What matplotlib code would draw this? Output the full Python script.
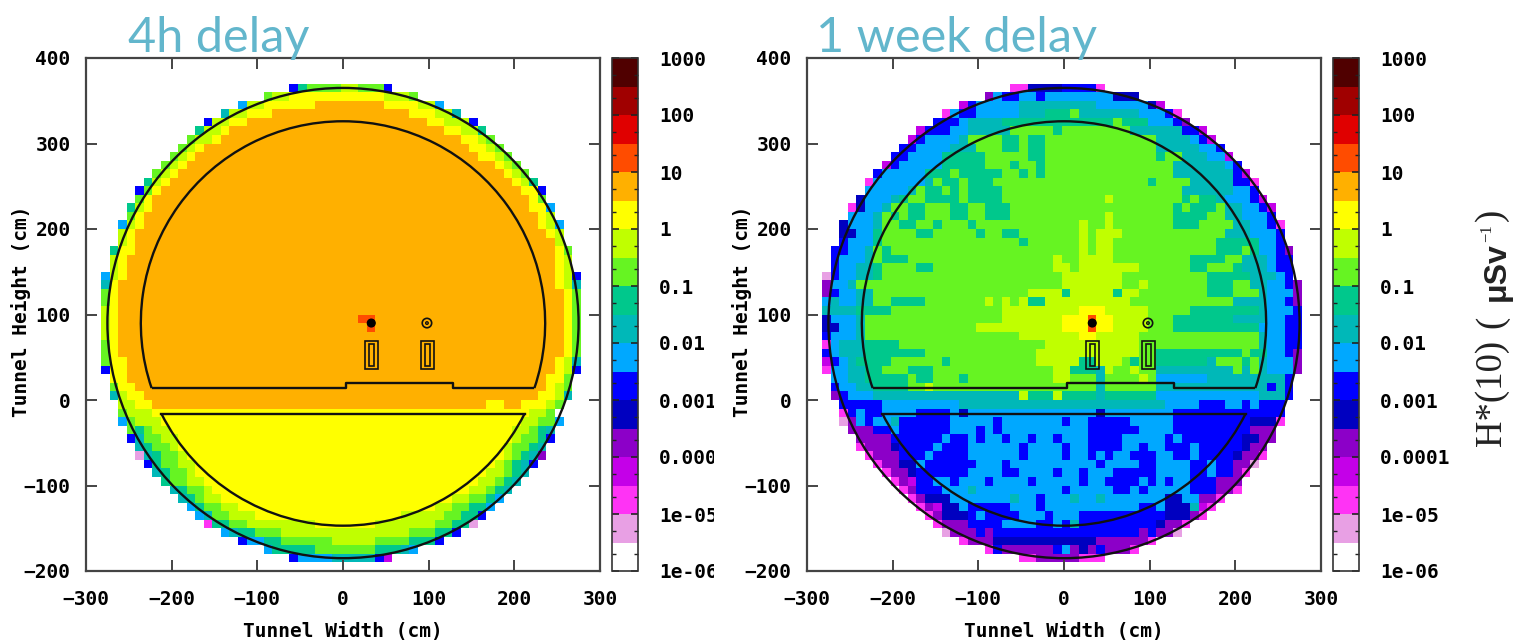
import re
import numpy as np
import matplotlib
matplotlib.use("Agg")
import matplotlib.pyplot as plt
from matplotlib.colors import ListedColormap, LogNorm
from matplotlib.patches import Arc, Circle, Rectangle
from matplotlib.transforms import Bbox

W, H = 1515, 640

# colour bands, low to high, two per decade from 1e-6 to 1000
band_letters = ".PMVUDBSTEGLYORXQK"
band_colors = ["#ffffff", "#e8a0e4", "#ff33f5", "#c400e8", "#8c00c8", "#0000c0",
               "#0000ff", "#00a8ff", "#00b8b8", "#00c88c", "#66f422", "#c0ff00",
               "#ffff00", "#ffb000", "#ff4c00", "#e00000", "#a00000", "#500000"]

# one string per row from y=370 down, 10 cm cells, run length coded
left_rows = [
    "22.BE4G2L3GB", "19.G2L11Y3LG", "16.S2L6Y8O4Y2LS", "14.T2L3Y16O3Y2LT",
    "12.B2L2Y21O2Y3LB", "11.E2LY25O2Y2LE", "10.G2LY28O2YLG", "9.GLY31O2YLG",
    "8.GLY33O2YLG", "7.GLY36OYLG", "6.GLY38OYLG", "5.ELY40OYLE",
    "4.BGY42O2YB", "4.GY44OYG", "3.ELY44O2YS", "3.GY46OYL",
    "2.SLY46OYLS", "2.LY48OYL", "2.LY49OL", "1.E2Y49OYG",
    "1.LY50OYL", "1.LY50OYL", "SLY50OYLB", "TY51OYLT",
    "GY52OYG", "GY52OYG", "LY52OYG", "LY28O2R22OYG",
    "LY29OR22OYG", "LY52OYG", "GY52OYG", "GY52OYG",
    "G2Y50OYLT", "B2Y50OYLB", "1.2Y49O2YG", "1.G2Y48OYLG",
    "1.TL2Y46O2YLT", "2.2L2Y39O2Y2O3YLG", "2.G3L44Y2LG", "2.SG3L42Y2L2GS",
    "3.GEG2L40Y2LGET", "3.BT2G2L39YL2GEB", "4.TE2GL38YL2GET", "4.PTE2GL37YLGETU",
    "5.BE2G2L35YLGETB", "6.TE2GL34Y2LGET", "7.E2G2L32Y2LGET", "8.TE2GL30Y2LGET",
    "9.TEG2L27Y2L2GES", "10.SE2G2L23Y2L2G2ES", "11.ST2G3L17Y5L2G2EB", "12.M2E2G8L7Y7L2G2EP",
    "14.ST2E3G15L3G2EB", "16.B2S2E6G5L4G3EB", "19.S5E7G3ETS", "22.B4S5TBV",
]
right_rows = [
    "22.2M4D4BM", "19.US2B2SB8S3D", "16.VB5S9T6SDV", "14.MS2B5S3T3EG7T3SBM",
    "13.3BS4T13EG3E3SBU", "11.V3B2S5T5GE8G6T2BV", "10.VB4ST4G2EG2E13G4TSBV", "9.2B4S3T3G2EG2E13G5T2SB",
    "8.2B4S5E5G2E13GE2G3T2SV", "7.VB5S5E3GE2GE15G6TSB", "6.B5S3EG5E2GEGE15G7TBV", "5.M6STG2EG3E18GE4G5T2BM",
    "5.5STG2EGEG4E21G6T2SB", "4.D3STE2G4EG4E12GL8GEG2ET3SBV", "3.MD2ST2G2E3G2E2G3E19GEG3EG2T2SBV", "3.3STGEG2E3G2E2G3E11GL7G4E2G2T3SB",
    "2.D3ST2G2E2GE3GE12GL2GL7G3E4G2T2SBM", "2.2D2SE4G2E5GE2G2E7GLG3L12G3T3SB", "2.B3SE16GE6GLG2L12G5E2SB", "1.2B2STGE22GLG2L12G3EGE2SBU",
    "1.B3STG3E17GL2G4L9G4E2G3TS2B", "1.B2S2TE4G2E14G2LG7L6G2E3GE3TS2B", "PB2S2TE21G7L10G5E3TSB", "U2STG23G7L2GL7G3E2G2T2SBU",
    "UB2S2T18G4LE5LE2L8G3E3GT3SU", "ST2S2T2G4E7GLGLGL2E10L12G4T2SBU", "4T4E13G9L3Y5L5G8ET3SB", "D3ST16G7L3YR2Y4L3G7E4T2S2B",
    "2D2ST13G10L3YR2Y4L3G10E3S2B", "B3ST18G7L2Y5L14GT2S2B", "MS3T4E17G11L14GT2S2B", "BS3T7E13G12L2G10EG2E2SBU",
    "VBST4E6GE10G5L2E3LGE2G6ET3GEGT3SU", "M2S2T2E3G3E14G2L3ETL2GL2G9TGTGT3SU", "1.2S2T5EG2E3GE10G2L3GT4GLG6S9TB", "1.B2S2T4E2GL19GT6G13TBTB",
    "1.UB3S17TL3EL4ET6E12S3TB", "2.5B9S24T4S3B2SBS3B", "2.MBS2B4S4BSD15SD8S13B", "2.PUSB2ST6B5SB7SB2S5B5S9B3DM",
    "3.3U2BS6B3SBSB10S6B4S9B3U", "4.4U6BS2BSB2SB2SB2SB3S4B5SBS7B2D2U", "4.M3UD4BS3B6SB4SB2S4B2SB2S3BS5BD2U", "5.M3U3BS4B6SB4SB2SBSB2S3B2S2BS4BD2UM",
    "6.M2U2DS6B3SB10SB4S2B4S2BS2B2UP", "7.M2UD6B4S2B4SB2SB3S5B4S2BS2BUM", "8.MUV2B2SB3SB4SB5SB2S4BSBSB2S3B3U", "9.MU3B3ST10SB5S2BSB5S3B2UM",
    "10.MU3D7ST2SB3ST2ST7S2D2S2UM", "11.MUV2DS5B3SB11S2BS3DTVM", "12.MU3DBS4B3SB3S10B3DUM", "13.M3U4B4S2BSBT9BD2UM",
    "14.P3UBU17BUB2UP", "16.M3U12D6UM", "19.MB6UBSUDUB3UM", "23.2M5U3M",
]

x_edges = np.arange(-282.5, 280, 10)
y_edges = np.arange(370, -200, -10)

major_values = [1e-6, 1e-5, 1e-4, 1e-3, 1e-2, 1e-1, 1, 10, 100, 1000]
major_labels = ["1e-06", "1e-05", "0.0001", "0.001", "0.01", "0.1", "1", "10", "100", "1000"]
minor_values = [m * 10.0**e for e in range(-6, 3) for m in (2, 5)]

titles = ["4h delay", "1 week delay"]
title_x = [128, 816]
axes_left = [86, 807]
cbar_left = [612, 1333]
label_clip = [714, 1515]

# tunnel geometry in cm
wall_center = (0, 90)
wall_radius = 275
arch_radius = 236
floor_x = [-222, 3, 3, 128, 128, 222]
floor_y = [14, 14, 20, 20, 14, 14]
lower_radius = 237
lower_top = -16
box_x = [26, 91]
box_size = (15, 33)
box_inner = (6, 25)
box_bottom = 36
source_x = [33, 98]
source_y = 90

plt.rcParams["font.family"] = "DejaVu Sans Mono"
plt.rcParams["font.weight"] = "bold"
plt.rcParams["axes.labelweight"] = "bold"
plt.rcParams["font.size"] = 14
plt.rcParams["text.color"] = "#222222"
INK = "#444444"
LINE = "#111111"

cmap = ListedColormap(band_colors)
norm = LogNorm(1e-6, 1e3)
band_values = 10.0 ** (-6 + 0.5 * (np.arange(len(band_letters)) + 0.5))


def decode(rows):
    grid = np.full((len(rows), len(x_edges) - 1), np.nan)
    for r, row in enumerate(rows):
        c = 0
        for count, letter in re.findall(r"(\d*)([.A-Z])", row):
            n = int(count) if count else 1
            if letter != ".":
                grid[r, c:c + n] = band_values[band_letters.index(letter)]
            c += n
    return np.ma.masked_invalid(grid)


def tunnel_lines(ax):
    ax.add_patch(Circle(wall_center, wall_radius, fill=False, ec=LINE, lw=1.7))
    a = np.degrees(np.arcsin((wall_center[1] - floor_y[0]) / arch_radius))
    ax.add_patch(Arc(wall_center, 2 * arch_radius, 2 * arch_radius, theta1=-a, theta2=180 + a, ec=LINE, lw=1.7))
    ax.plot(floor_x, floor_y, color=LINE, lw=1.7)
    b = np.degrees(np.arcsin((wall_center[1] - lower_top) / lower_radius))
    half = lower_radius * np.cos(np.radians(b))
    ax.add_patch(Arc(wall_center, 2 * lower_radius, 2 * lower_radius, theta1=180 + b, theta2=360 - b, ec=LINE, lw=1.7))
    ax.plot([-half, half], [lower_top, lower_top], color=LINE, lw=1.7)
    for x in box_x:
        ax.add_patch(Rectangle((x, box_bottom), box_size[0], box_size[1], fill=False, ec=LINE, lw=1.2))
        ax.add_patch(Rectangle((x + (box_size[0] - box_inner[0]) / 2, box_bottom + (box_size[1] - box_inner[1]) / 2),
                               box_inner[0], box_inner[1], fill=False, ec=LINE, lw=1.2))
    ax.add_patch(Circle((source_x[0], source_y), 4.5, fc="black", ec="black"))
    ax.add_patch(Circle((source_x[1], source_y), 5.5, fill=False, ec=LINE, lw=1.2))
    ax.add_patch(Circle((source_x[1], source_y), 1.5, fill=False, ec=LINE, lw=1))


def side_text(x, y, s, family, size, weight="normal"):
    fig.text(x / W, 1 - y / H, s, rotation=90, ha="center", va="center", family=family,
             size=size, weight=weight, color="#222222")


fig = plt.figure(figsize=(W / 100, H / 100), dpi=100, facecolor="white")

for i, rows in enumerate([left_rows, right_rows]):
    ax = fig.add_axes([axes_left[i] / W, 69 / H, 514 / W, 513 / H])
    mesh = ax.pcolormesh(x_edges, y_edges, decode(rows), cmap=cmap, norm=norm, antialiased=False, linewidth=0)
    tunnel_lines(ax)
    ax.set_xlim(-300, 300)
    ax.set_ylim(-200, 400)
    ax.set_xticks(range(-300, 301, 100))
    ax.set_yticks(range(-200, 401, 100))
    ax.tick_params(axis="x", which="major", direction="in", length=8, width=1.4, color=INK, top=True, pad=14)
    ax.tick_params(axis="y", which="major", direction="in", length=8, width=1.4, color=INK, right=True, pad=11)
    for s in ax.spines.values():
        s.set_color(INK)
        s.set_linewidth(1.6)
    ax.set_xlabel("Tunnel Width (cm)", va="center")
    ax.set_ylabel("Tunnel Height (cm)", va="center")
    ax.xaxis.set_label_coords(0.5, -0.117)
    ax.yaxis.set_label_coords(-0.127, 0.507)

    cax = fig.add_axes([cbar_left[i] / W, 69 / H, 26 / W, 513 / H])
    cb = fig.colorbar(mesh, cax=cax)
    cb.set_ticks(major_values, labels=major_labels)
    cb.set_ticks(minor_values, minor=True)
    cax.tick_params(which="major", direction="in", length=5, width=1.2, color="#222222", left=True, right=True, pad=15)
    cax.tick_params(which="minor", direction="in", length=3, width=1, color="#222222", left=True, right=True)
    cb.outline.set_edgecolor("#333333")
    cb.outline.set_linewidth(1.2)
    for lab in cax.get_yticklabels():
        lab.set_clip_on(True)
        lab.set_clip_box(Bbox([[0, 0], [label_clip[i], H]]))

    fig.text(title_x[i] / W, 1 - 52 / H, titles[i], family="Lato", weight="normal", size=35,
             color="#62b6cc", ha="left", va="baseline")

side_text(1492, 393, "H*(10)", "Liberation Serif", 26.5)
side_text(1492, 322, "(", "Liberation Serif", 26.5)
side_text(1497, 272, "\u03bcSv", "Liberation Sans", 23, "bold")
side_text(1487, 233, "\u22121", "Liberation Serif", 12)
side_text(1492, 215, ")", "Liberation Serif", 26.5)

fig.savefig("out.png", dpi=100, facecolor="white")
